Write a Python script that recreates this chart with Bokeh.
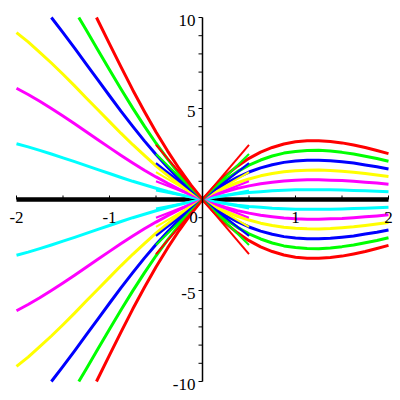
from bokeh.plotting import figure
from bokeh.models import Range1d, Label
from bokeh.embed import file_html
from bokeh.resources import INLINE
import math

# sample abscissae (step 0.125)
xs = [-2.0, -1.875, -1.75, -1.625, -1.5, -1.375, -1.25, -1.125, -1.0,
      -0.875, -0.75, -0.625, -0.5, -0.375, -0.25, -0.125, 0.0,
      0.125, 0.25, 0.375, 0.5, 0.625, 0.75, 0.875, 1.0,
      1.125, 1.25, 1.375, 1.5, 1.625, 1.75, 1.875, 2.0]

# upward-right branch of each colour (the mirrored branch is its negative);
# the steep ones start where they leave the -10..10 view
cyan_x = xs
cyan_y = [-3.06, -2.89, -2.70, -2.50, -2.29, -2.08, -1.86, -1.64, -1.43,
          -1.21, -1.00, -0.81, -0.62, -0.44, -0.28, -0.13, 0.0,
          0.12, 0.22, 0.31, 0.38, 0.43, 0.48, 0.51, 0.53,
          0.54, 0.54, 0.53, 0.52, 0.50, 0.48, 0.45, 0.42]
magenta_x = xs
magenta_y = [-6.11, -5.77, -5.40, -5.00, -4.59, -4.16, -3.72, -3.28, -2.85,
             -2.42, -2.01, -1.61, -1.24, -0.89, -0.56, -0.27, 0.0,
             0.23, 0.44, 0.61, 0.75, 0.87, 0.95, 1.02, 1.06,
             1.08, 1.08, 1.06, 1.04, 1.00, 0.95, 0.90, 0.84]
yellow_x = xs
yellow_y = [-9.17, -8.66, -8.09, -7.50, -6.88, -6.24, -5.58, -4.93, -4.28,
            -3.63, -3.01, -2.42, -1.85, -1.33, -0.84, -0.40, 0.0,
            0.35, 0.66, 0.92, 1.13, 1.30, 1.43, 1.53, 1.58,
            1.61, 1.62, 1.60, 1.55, 1.50, 1.43, 1.35, 1.26]
blue_x = xs[3:]
blue_y = [-10.00, -9.17, -8.32, -7.44, -6.57, -5.70,
          -4.84, -4.02, -3.22, -2.47, -1.77, -1.12, -0.53, 0.0,
          0.47, 0.88, 1.22, 1.51, 1.74, 1.91, 2.04, 2.11,
          2.15, 2.16, 2.13, 2.07, 2.00, 1.90, 1.80, 1.68]
green_x = [-1.33] + xs[6:]
green_y = [-10.00, -9.31, -8.21, -7.13,
           -6.06, -5.02, -4.03, -3.09, -2.22, -1.41, -0.67, 0.0,
           0.59, 1.10, 1.53, 1.89, 2.17, 2.39, 2.55, 2.64,
           2.69, 2.70, 2.66, 2.59, 2.50, 2.38, 2.25, 2.10]
red_x = [-1.14] + xs[8:]
red_y = [-10.00, -8.55,
         -7.27, -6.02, -4.84, -3.71, -2.66, -1.69, -0.80, 0.0,
         0.70, 1.31, 1.83, 2.26, 2.60, 2.86, 3.05, 3.17,
         3.23, 3.23, 3.19, 3.11, 2.99, 2.86, 2.69, 2.52]
black_y = [0.0] * len(xs)

colors = ["#00FFFF", "#FF00FF", "#FFFF00", "#0000FF", "#00FF00", "#FF0000"]
curve_x = [cyan_x, magenta_x, yellow_x, blue_x, green_x, red_x]
curve_y = [cyan_y, magenta_y, yellow_y, blue_y, green_y, red_y]

# tangent segments at the origin: value at x = 0.5
tan_x = [-0.5, 0.5]
tan_end = [0.5, 1.0, 1.5, 2.0, 2.5, 3.0]

x_lim = [-2, 2]
y_lim = [-10, 10]
xtick_vals = [-2, -1, 1, 2]
xtick_labels = ["-2", "-1", "1", "2"]
ytick_vals = [10, 5, -5, -10]
ytick_labels = ["10", "5", "-5", "-10"]
xminor = [-2, -1.5, -1, -0.5, 0.5, 1, 1.5, 2]
yminor = [v for v in range(-10, 11) if v != 0]

# frame covers the whole 400x400 canvas; the plot box -2..2 x -10..10
# sits at pixels 16..388 x 17..381
p = figure(width=400, height=400,
           x_range=Range1d(-2 - 16 / 93, 2 + 12 / 93),
           y_range=Range1d(-10 - 19 / 18.2, 10 + 17 / 18.2),
           output_backend="svg", toolbar_location=None)
p.min_border = 0
p.xaxis.visible = False
p.yaxis.visible = False
p.grid.visible = False
p.outline_line_color = None
p.background_fill_color = "white"
p.border_fill_color = "white"

# zero solution
p.line(xs, black_y, line_color="black", line_width=4.5)

for col, cx, cy in zip(colors, curve_x, curve_y):
    p.line(cx, cy, line_color=col, line_width=3, line_join="round")
    p.line(cx, [-v for v in cy], line_color=col, line_width=3, line_join="round")

for col, e in zip(colors, tan_end):
    p.line(tan_x, [-e, e], line_color=col, line_width=2)
    p.line(tan_x, [e, -e], line_color=col, line_width=2)

# y axis and ticks
p.line([0, 0], y_lim, line_color="black", line_width=1.5)
p.ray(x=0, y=yminor, length=4, angle=math.pi, length_units="screen",
      line_color="black", line_width=1)
p.ray(x=xminor, y=0, length=4, angle=math.pi / 2, length_units="screen",
      line_color="black", line_width=1)

font = "Liberation Serif"
for v, t in zip(xtick_vals, xtick_labels):
    p.add_layout(Label(x=v, y=0, text=t, text_align="center", text_baseline="top",
                       y_offset=-12, text_font=font, text_font_size="17px",
                       text_color="black"))
for v, t in zip(ytick_vals, ytick_labels):
    p.add_layout(Label(x=0, y=v, text=t, text_align="right", text_baseline="middle",
                       x_offset=-7, y_offset=-3, text_font=font, text_font_size="17px",
                       text_color="black"))
p.add_layout(Label(x=0, y=0, text="0", text_align="center", text_baseline="middle",
                   x_offset=-9, y_offset=-18, text_font=font, text_font_size="17px",
                   text_color="black"))

open("out.html", "w").write(file_html(p, INLINE))
